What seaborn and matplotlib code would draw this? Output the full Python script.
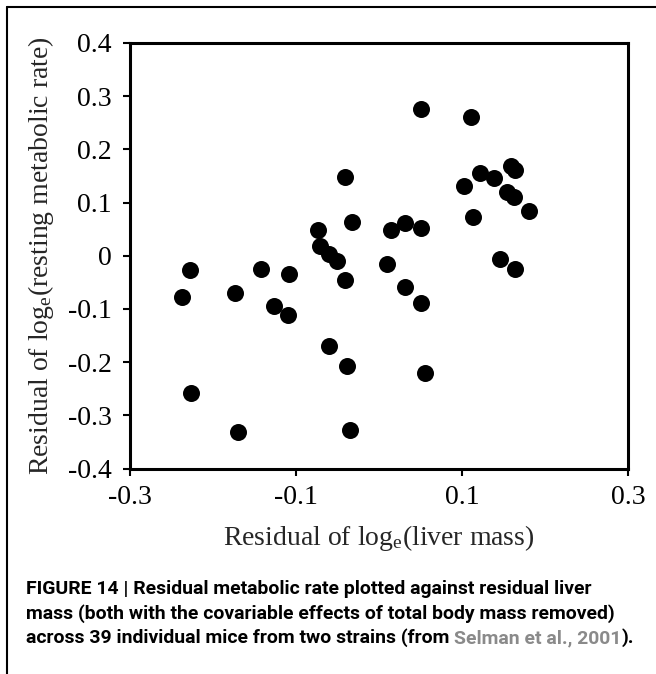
import matplotlib

matplotlib.use("Agg")

import matplotlib.pyplot as plt
import pandas as pd
import seaborn as sns
from matplotlib.lines import Line2D

# residual of log_e(liver mass) vs residual of log_e(resting metabolic rate)
liver_resid = [
    0.050, 0.111, -0.041, 0.159, 0.164, 0.122, 0.138, 0.103,
    0.154, 0.163, 0.181, 0.113, -0.032, 0.031, 0.014, 0.051,
    -0.073, -0.071, -0.060, -0.051, 0.010, 0.146, 0.164, -0.228,
    -0.142, -0.109, -0.041, 0.031, -0.237, -0.173, -0.127, -0.110,
    0.051, -0.060, -0.038, 0.055, -0.227, -0.170, -0.035,
]
rmr_resid = [
    0.275, 0.260, 0.149, 0.169, 0.161, 0.156, 0.146, 0.131,
    0.119, 0.111, 0.084, 0.072, 0.064, 0.062, 0.048, 0.053,
    0.048, 0.018, 0.003, -0.009, -0.015, -0.007, -0.024, -0.026,
    -0.024, -0.035, -0.046, -0.059, -0.077, -0.070, -0.095, -0.112,
    -0.089, -0.170, -0.208, -0.220, -0.258, -0.332, -0.327,
]
x_ticks = [-0.3, -0.1, 0.1, 0.3]
x_tick_labels = ["-0.3", "-0.1", "0.1", "0.3"]
y_ticks = [0.4, 0.3, 0.2, 0.1, 0.0, -0.1, -0.2, -0.3, -0.4]
y_tick_labels = ["0.4", "0.3", "0.2", "0.1", "0", "-0.1", "-0.2", "-0.3", "-0.4"]

caption_lines = [
    "FIGURE 14 | Residual metabolic rate plotted against residual liver",
    "mass (both with the covariable effects of total body mass removed)",
]
caption_last = ["across 39 individual mice from two strains (from ", "Selman et al., 2001", ")."]

df = pd.DataFrame({"liver": liver_resid, "rmr": rmr_resid})

sns.set_style("ticks")
plt.rcParams["font.family"] = ["Liberation Serif", "DejaVu Serif"]
plt.rcParams["mathtext.fontset"] = "custom"
plt.rcParams["mathtext.rm"] = "Liberation Serif"
plt.rcParams["mathtext.it"] = "Liberation Serif"

W, H = 656, 674
fig = plt.figure(figsize=(W / 100, H / 100), dpi=100)
ax = fig.add_axes([130 / W, 1 - 468.5 / H, 498 / W, 425.5 / H])

sns.scatterplot(data=df, x="liver", y="rmr", ax=ax, color="black",
                s=150, edgecolor="black", linewidth=0, legend=False)

ax.set_xlim(-0.3, 0.3)
ax.set_ylim(-0.4, 0.4)
ax.set_xticks(x_ticks)
ax.set_xticklabels(x_tick_labels)
ax.set_yticks(y_ticks)
ax.set_yticklabels(y_tick_labels)
ax.tick_params(axis="both", direction="out", length=5, width=1.5,
               labelsize=20, color="black", labelcolor="black")
ax.tick_params(axis="y", pad=8)
ax.tick_params(axis="x", pad=7)
for sp in ax.spines.values():
    sp.set_visible(True)
    sp.set_linewidth(2.2)
    sp.set_color("black")

ax.set_xlabel("Residual of log$_{\\rm e}$(liver mass)", fontsize=20, labelpad=9)
ax.set_ylabel("Residual of log$_{\\rm e}$(resting metabolic rate)", fontsize=20, labelpad=9)

# outer frame (left and top edges visible)
fig.add_artist(Line2D([7 / W, 7 / W], [0, 1 - 7 / H], transform=fig.transFigure,
                      color="black", linewidth=1.5))
fig.add_artist(Line2D([7 / W, 1], [1 - 7 / H, 1 - 7 / H], transform=fig.transFigure,
                      color="black", linewidth=1.5))

cap_font = dict(family=["Roboto", "Liberation Sans", "DejaVu Sans"],
                weight="bold", va="baseline", ha="left")
x0 = 26 / W
baselines = [594, 619, 643]

# fit caption size so the second line ends where the reference does
fig.canvas.draw()
renderer = fig.canvas.get_renderer()
probe = fig.text(x0, 0.5, caption_lines[1], fontsize=14, **cap_font)
width_px = probe.get_window_extent(renderer).width
probe.remove()
cap_size = 14 * 592 / width_px

for txt, b in zip(caption_lines, baselines[:2]):
    fig.text(x0, 1 - b / H, txt, color="black", fontsize=cap_size, **cap_font)

xpos = x0
colors = ["black", "#8a8a8a", "black"]
for part, c in zip(caption_last, colors):
    t = fig.text(xpos, 1 - baselines[2] / H, part, color=c, fontsize=cap_size, **cap_font)
    bb = t.get_window_extent(renderer)
    xpos = bb.x1 / W

fig.savefig("out.png", dpi=100)
